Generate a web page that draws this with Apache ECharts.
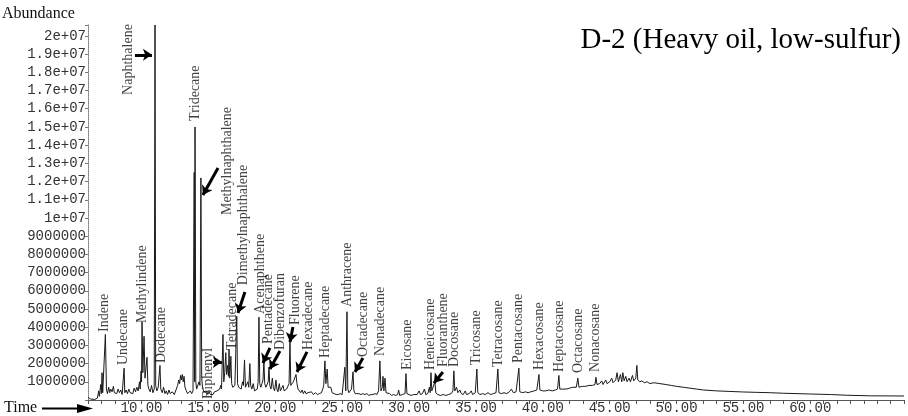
<!DOCTYPE html>
<html>
<head>
<meta charset="utf-8">
<script src="https://cdn.jsdelivr.net/npm/echarts@6/dist/echarts.min.js"></script>
<style>html,body{margin:0;padding:0;background:#fff;}#c{width:908px;height:416px;}</style>
</head>
<body>
<div id="c"></div>
<script>
// Retention time (min) and abundance (millions of counts)
const retentionTime = [
  6.0, 6.2, 6.5, 6.7, 6.8, 6.85, 6.95, 7.0, 7.05, 7.1,
  7.2, 7.3, 7.38, 7.45, 7.55, 7.62, 7.7, 7.8, 7.9, 7.97,
  8.05, 8.15, 8.25, 8.35, 8.45, 8.55, 8.65, 8.7, 8.75, 8.85,
  8.95, 9.05, 9.15, 9.25, 9.35, 9.45, 9.55, 9.65, 9.75, 9.85,
  9.9, 9.97, 10.0, 10.04, 10.1, 10.19, 10.26, 10.32, 10.41, 10.48,
  10.55, 10.65, 10.75, 10.85, 10.95, 11.01, 11.06, 11.15, 11.25, 11.32,
  11.38, 11.44, 11.55, 11.65, 11.75, 11.85, 11.95, 12.05, 12.15, 12.3,
  12.45, 12.6, 12.7, 12.78, 12.85, 12.92, 12.98, 13.05, 13.12, 13.18,
  13.25, 13.35, 13.45, 13.55, 13.65, 13.75, 13.85, 13.94, 13.97, 14.0,
  14.06, 14.12, 14.2, 14.3, 14.37, 14.44, 14.5, 14.56, 14.65, 14.75,
  14.85, 14.95, 15.05, 15.15, 15.25, 15.35, 15.45, 15.55, 15.65, 15.75,
  15.85, 15.92, 15.98, 16.09, 16.15, 16.22, 16.3, 16.36, 16.43, 16.5,
  16.54, 16.6, 16.68, 16.74, 16.82, 16.9, 16.98, 17.05, 17.12, 17.18,
  17.26, 17.35, 17.45, 17.55, 17.62, 17.7, 17.77, 17.85, 17.95, 18.02,
  18.1, 18.16, 18.25, 18.35, 18.45, 18.55, 18.65, 18.72, 18.78, 18.84,
  18.92, 19.0, 19.08, 19.15, 19.21, 19.3, 19.4, 19.47, 19.53, 19.59,
  19.68, 19.78, 19.85, 19.95, 20.05, 20.12, 20.2, 20.3, 20.38, 20.48,
  20.58, 20.66, 20.75, 20.85, 20.95, 21.03, 21.1, 21.16, 21.25, 21.35,
  21.45, 21.55, 21.62, 21.7, 21.8, 21.9, 22.0, 22.1, 22.2, 22.3,
  22.45, 22.55, 22.7, 22.85, 23.0, 23.15, 23.3, 23.45, 23.55, 23.62,
  23.71, 23.78, 23.88, 23.95, 24.05, 24.15, 24.25, 24.4, 24.55, 24.7,
  24.85, 25.0, 25.1, 25.2, 25.27, 25.36, 25.42, 25.5, 25.6, 25.7,
  25.81, 25.88, 25.98, 26.1, 26.25, 26.4, 26.55, 26.7, 26.85, 27.0,
  27.15, 27.3, 27.45, 27.6, 27.72, 27.82, 27.9, 28.0, 28.05, 28.12,
  28.2, 28.28, 28.4, 28.55, 28.7, 28.85, 29.0, 29.15, 29.22, 29.3,
  29.5, 29.7, 29.77, 29.84, 30.0, 30.15, 30.35, 30.6, 30.75, 30.85,
  31.0, 31.15, 31.25, 31.4, 31.52, 31.58, 31.64, 31.7, 31.8, 31.93,
  32.0, 32.15, 32.35, 32.55, 32.75, 32.95, 33.15, 33.28, 33.35, 33.42,
  33.55, 33.65, 33.8, 33.9, 34.05, 34.2, 34.3, 34.5, 34.65, 34.75,
  34.95, 35.07, 35.14, 35.3, 35.5, 35.7, 35.9, 36.1, 36.3, 36.5,
  36.64, 36.72, 36.9, 37.1, 37.3, 37.5, 37.65, 37.8, 38.0, 38.21,
  38.28, 38.5, 38.7, 38.9, 39.1, 39.35, 39.55, 39.71, 39.78, 40.0,
  40.2, 40.45, 40.7, 40.95, 41.1, 41.2, 41.27, 41.5, 41.75, 42.0,
  42.25, 42.5, 42.62, 42.7, 42.95, 43.2, 43.45, 43.7, 43.9, 43.97,
  44.05, 44.25, 44.4, 44.5, 44.7, 44.8, 45.0, 45.15, 45.25, 45.45,
  45.55, 45.65, 45.8, 45.9, 45.98, 46.08, 46.2, 46.3, 46.45, 46.55,
  46.7, 46.8, 46.95, 47.03, 47.1, 47.25, 47.4, 47.6, 47.8, 48.0,
  48.3, 48.75, 49.2, 49.6, 50.0, 50.5, 51.0, 51.5, 52.0, 53.0,
  54.0, 55.0, 56.0, 57.0, 58.0, 59.0, 60.0, 61.5, 62.8, 64.5,
  67.0
];
const abundanceMillions = [
  0.15, 0.05, 0.03, 0.1, 0.5, 0.2, 0.85, 0.35, 1.5, 0.4,
  0.5, 3.6, 0.6, 0.35, 0.7, 0.4, 0.6, 0.45, 0.75, 0.4,
  0.5, 0.35, 0.6, 0.4, 0.55, 0.3, 0.4, 1.75, 0.4, 0.55,
  0.35, 0.6, 0.4, 0.5, 0.35, 0.65, 0.45, 0.7, 0.5, 1.0,
  0.6, 1.6, 1.0, 4.3, 1.5, 3.5, 1.2, 1.3, 2.35, 0.8,
  0.6, 0.45, 0.8, 0.4, 0.6, 20.6, 0.8, 0.5, 0.7, 0.6,
  1.9, 0.6, 0.4, 0.7, 0.35, 0.5, 0.3, 0.55, 0.35, 0.45,
  0.3, 0.6, 0.8, 1.1, 0.9, 1.35, 1.1, 1.4, 1.0, 1.3,
  0.7, 0.5, 0.35, 0.3, 0.5, 0.35, 0.5, 12.5, 1.0, 15.0,
  1.0, 0.6, 0.5, 1.0, 0.8, 12.2, 1.2, 0.7, 0.45, 0.35,
  0.5, 0.3, 0.45, 0.3, 0.4, 0.3, 0.45, 0.35, 0.5, 0.4,
  0.6, 0.8, 0.6, 3.6, 1.0, 1.5, 2.6, 1.4, 1.9, 1.3,
  2.8, 1.2, 2.4, 0.9, 0.7, 0.6, 0.8, 0.9, 4.6, 0.9,
  0.7, 0.8, 0.6, 1.0, 0.8, 2.2, 0.7, 0.6, 1.0, 0.7,
  2.0, 0.8, 0.6, 0.9, 0.5, 0.45, 0.6, 1.0, 4.55, 0.9,
  0.7, 0.9, 1.1, 2.1, 0.9, 0.7, 0.8, 1.0, 1.8, 0.8,
  0.6, 1.2, 0.7, 0.5, 1.1, 0.6, 0.45, 0.9, 0.5, 0.4,
  0.8, 0.5, 0.4, 0.6, 0.7, 0.9, 3.25, 0.8, 0.7, 1.0,
  0.9, 1.4, 0.9, 0.6, 0.5, 0.4, 0.55, 0.35, 0.5, 0.35,
  0.4, 0.3, 0.45, 0.3, 0.4, 0.3, 0.35, 0.4, 0.6, 0.8,
  2.15, 0.9, 1.7, 0.7, 0.6, 0.7, 0.4, 0.35, 0.3, 0.3,
  0.35, 0.3, 0.4, 1.8, 0.5, 4.85, 0.6, 0.4, 0.5, 0.6,
  1.55, 0.5, 0.35, 0.3, 0.35, 0.3, 0.35, 0.3, 0.35, 0.25,
  0.3, 0.3, 0.35, 0.3, 0.5, 2.15, 0.5, 0.7, 1.3, 0.5,
  1.2, 0.4, 0.3, 0.35, 0.25, 0.3, 0.25, 0.3, 0.55, 0.25,
  0.3, 0.35, 1.45, 0.35, 0.3, 0.25, 0.3, 0.3, 0.5, 0.3,
  0.35, 0.6, 0.3, 0.35, 0.7, 0.4, 1.5, 0.5, 0.55, 1.0,
  0.4, 0.3, 0.25, 0.3, 0.25, 0.3, 0.35, 0.5, 1.6, 0.5,
  0.7, 0.4, 0.55, 0.35, 0.3, 0.5, 0.3, 0.35, 0.5, 0.3,
  0.4, 1.7, 0.4, 0.3, 0.35, 0.3, 0.4, 0.3, 0.35, 0.4,
  1.7, 0.4, 0.35, 0.4, 0.35, 0.45, 0.6, 0.4, 0.45, 1.75,
  0.45, 0.4, 0.45, 0.4, 0.45, 0.5, 0.55, 1.4, 0.55, 0.5,
  0.5, 0.55, 0.5, 0.55, 0.6, 1.35, 0.6, 0.6, 0.6, 0.65,
  0.7, 0.7, 1.2, 0.7, 0.75, 0.75, 0.8, 0.8, 0.85, 1.25,
  0.85, 0.9, 1.05, 0.85, 1.1, 0.9, 1.0, 1.2, 0.95, 1.1,
  1.5, 1.0, 1.4, 1.0, 1.5, 1.05, 1.3, 1.0, 1.2, 1.0,
  1.35, 1.05, 1.2, 1.9, 1.1, 1.0, 1.05, 0.95, 1.0, 0.9,
  0.95, 0.9, 0.85, 0.8, 0.75, 0.7, 0.65, 0.6, 0.55, 0.5,
  0.47, 0.44, 0.42, 0.4, 0.37, 0.35, 0.33, 0.3, 0.26, 0.23,
  0.22
];

// X tick labels that are printed (others are bare ticks)
const xTickLabels = [10, 15, 20, 25, 30, 35, 40, 45, 50, 55, 60];

// Compound annotations: name, anchor time (min), anchor abundance (millions)
const compoundNames = [
  'Indene', 'Undecane', 'Methylindene', 'Naphthalene', 'Dodecane', 'Tridecane',
  'Methylnaphthalene', 'Dimethylnaphthalene', 'Biphenyl', 'Tetradecane', 'Acenaphthene',
  'Pentadecane', 'Dibenzofuran', 'Fluorene', 'Hexadecane', 'Heptadecane', 'Anthracene',
  'Octadecane', 'Nonadecane', 'Eicosane', 'Heneicosane', 'Fluoranthene', 'Docosane',
  'Tricosane', 'Tetracosane', 'Pentacosane', 'Hexacosane', 'Heptacosane', 'Octacosane',
  'Nonacosane'
];
const labelTime = [
  7.2, 8.62, 10.04, 8.99, 11.46, 14.0,
  16.39, 17.58, 14.97, 16.76, 18.86,
  19.45, 20.35, 21.47, 22.44, 23.71, 25.36,
  26.55, 27.82, 29.84, 31.56, 32.53, 33.35,
  35.0, 36.64, 38.14, 39.71, 41.2, 42.62,
  43.89
];
const labelLevel = [
  3.74, 1.92, 4.23, 16.76, 2.03, 15.33,
  10.16, 6.3, 0.05, 2.75, 4.73,
  3.08, 2.75, 4.12, 2.75, 2.31, 5.11,
  2.36, 2.42, 1.65, 1.65, 1.81, 1.81,
  1.92, 1.81, 2.03, 1.65, 1.54, 1.48,
  1.54
];

// Pointer arrows: start/end in (min, millions)
const arrowStartTime = [9.51, 15.72, 17.73, 15.34, 19.6, 20.35, 21.32, 22.37, 26.55, 32.53];
const arrowStartLevel = [18.96, 12.75, 5.93, 2.09, 2.86, 2.69, 4.01, 2.64, 2.31, 1.54];
const arrowEndTime = [10.78, 14.59, 17.21, 16.01, 19.08, 19.6, 21.1, 21.62, 25.96, 31.86];
const arrowEndLevel = [18.96, 11.26, 4.78, 2.09, 2.03, 1.7, 3.19, 1.54, 1.54, 0.93];

const M = 1e6;
const trace = retentionTime.map((t, i) => [t, abundanceMillions[i] * M]);
const labelData = compoundNames.map((n, i) => ({ name: n, value: [labelTime[i], labelLevel[i] * M] }));
const arrowData = arrowStartTime.map((t, i) => ({
  coords: [[t, arrowStartLevel[i] * M], [arrowEndTime[i], arrowEndLevel[i] * M]]
}));

function yLabel(v) {
  const k = Math.round(v / M);
  if (k <= 0 || Math.abs(v - k * M) > 1) return '';
  if (k >= 10) {
    const m = k / 10;
    return (Number.isInteger(m) ? String(m) : m.toFixed(1)) + 'e+07';
  }
  return String(k * M);
}
function xLabel(v) {
  const r = Math.round(v);
  if (Math.abs(v - r) > 1e-9 || xTickLabels.indexOf(r) < 0) return '';
  return r.toFixed(2);
}

const chart = echarts.init(document.getElementById('c'), null, { renderer: 'canvas' });
chart.setOption({
  animation: false,
  backgroundColor: '#fff',
  grid: { left: 88, right: 4, top: 25, bottom: 16, containLabel: false },
  xAxis: {
    type: 'value', min: 6, max: 67, interval: 1,
    axisLine: { show: true, lineStyle: { color: '#555', width: 1 } },
    axisTick: { show: true, length: 4, lineStyle: { color: '#555' } },
    splitLine: { show: false },
    axisLabel: {
      margin: 1, color: '#333', fontFamily: 'Liberation Mono', fontSize: 14,
      showMinLabel: true, showMaxLabel: true,
      formatter: xLabel
    }
  },
  yAxis: {
    type: 'value', min: 0, max: 20.6e6, interval: 1e6,
    axisLine: { show: true, lineStyle: { color: '#777', width: 1, type: 'dotted' } },
    axisTick: { show: true, length: 3, lineStyle: { color: '#777' } },
    splitLine: { show: false },
    axisLabel: {
      margin: 2, color: '#333', fontFamily: 'Liberation Mono', fontSize: 14,
      formatter: yLabel
    }
  },
  series: [
    {
      type: 'line', data: trace, showSymbol: false, symbol: 'none',
      lineStyle: { color: '#1a1a1a', width: 1 }, silent: true, clip: true, z: 2
    },
    {
      type: 'scatter', data: labelData, symbolSize: 0, silent: true, z: 3,
      label: {
        show: true, formatter: '{b}', rotate: 90, position: [0, 0],
        align: 'left', verticalAlign: 'middle',
        fontFamily: 'Liberation Serif', fontSize: 14, color: '#111'
      }
    },
    {
      type: 'lines', coordinateSystem: 'cartesian2d', data: arrowData, silent: true, z: 4,
      symbol: ['none', 'arrow'], symbolSize: 9,
      lineStyle: { color: '#000', width: 3, opacity: 1, curveness: 0 }
    }
  ],
  graphic: [
    { type: 'text', left: 2, top: 6, style: { text: 'Abundance', font: '16px "Liberation Serif"', fill: '#111' } },
    { type: 'text', right: 7, top: 26, style: { text: 'D-2 (Heavy oil, low-sulfur)', font: '29px "Liberation Serif"', fill: '#000' } },
    { type: 'text', left: 4, top: 400, style: { text: 'Time', font: '16px "Liberation Serif"', fill: '#111' } },
    { type: 'line', shape: { x1: 42, y1: 408.5, x2: 80, y2: 408.5 }, style: { stroke: '#000', lineWidth: 2 } },
    { type: 'polygon', shape: { points: [[77, 404], [93, 408.5], [77, 413]] }, style: { fill: '#000' } }
  ]
});
</script>
</body>
</html>
